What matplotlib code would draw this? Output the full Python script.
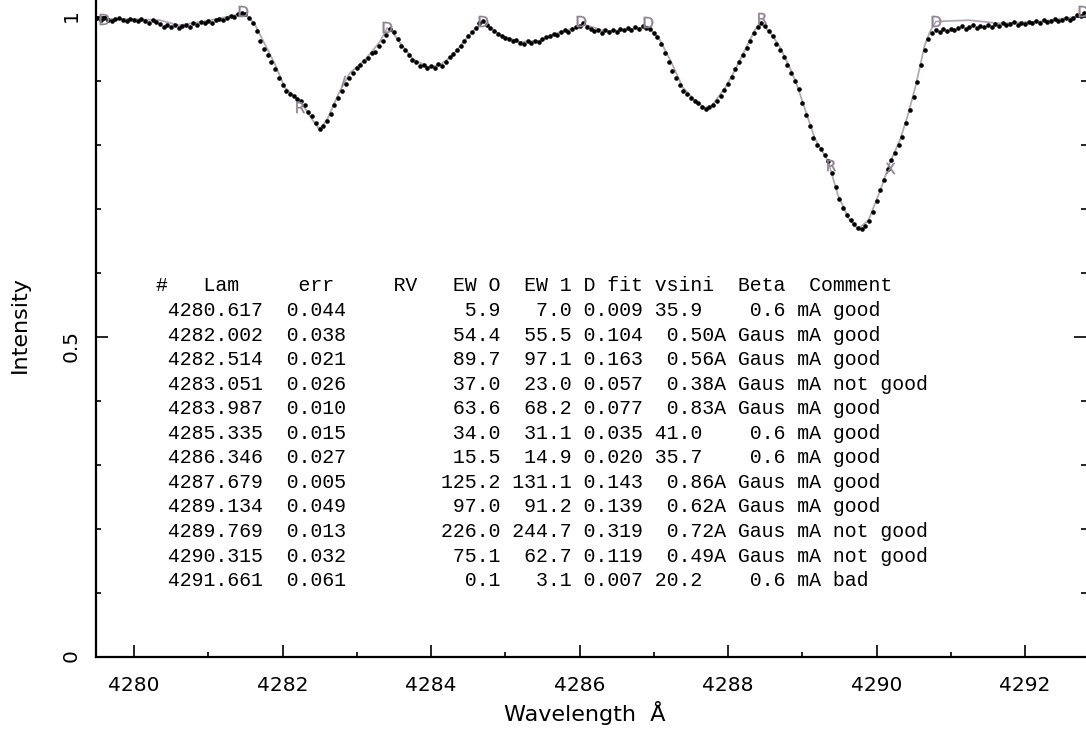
import matplotlib
matplotlib.use("Agg")
import matplotlib.pyplot as plt
from matplotlib.ticker import MultipleLocator
import numpy as np

# observed spectrum, uniform sampling from WAVE0 in steps of DWAVE
WAVE0, DWAVE = 4279.50, 0.05
FLUX = [
    0.998, 0.995, 0.999, 0.996, 0.994, 0.997, 0.999, 0.996, 0.993, 0.997,
    0.996, 0.993, 0.997, 0.994, 0.991, 0.995, 0.992, 0.989, 0.985, 0.987,
    0.984, 0.987, 0.983, 0.986, 0.988, 0.985, 0.990, 0.988, 0.992, 0.990,
    0.993, 0.991, 0.995, 0.997, 0.996, 0.999, 1.002, 1.000, 1.004, 1.006,
    1.004, 0.999, 0.990, 0.978, 0.962, 0.950, 0.941, 0.929, 0.918, 0.905,
    0.893, 0.884, 0.880, 0.876, 0.872, 0.868, 0.863, 0.852, 0.845, 0.834,
    0.825, 0.829, 0.838, 0.849, 0.862, 0.873, 0.885, 0.896, 0.905, 0.913,
    0.921, 0.925, 0.932, 0.936, 0.943, 0.946, 0.955, 0.963, 0.972, 0.982,
    0.976, 0.966, 0.955, 0.948, 0.940, 0.933, 0.929, 0.924, 0.925, 0.920,
    0.923, 0.921, 0.926, 0.924, 0.930, 0.937, 0.942, 0.949, 0.955, 0.963,
    0.970, 0.977, 0.983, 0.990, 0.993, 0.988, 0.983, 0.978, 0.974, 0.970,
    0.967, 0.965, 0.962, 0.964, 0.960, 0.958, 0.962, 0.959, 0.963, 0.961,
    0.965, 0.968, 0.970, 0.974, 0.972, 0.977, 0.979, 0.976, 0.981, 0.984,
    0.986, 0.990, 0.985, 0.982, 0.978, 0.980, 0.975, 0.979, 0.976, 0.980,
    0.977, 0.981, 0.979, 0.983, 0.980, 0.984, 0.982, 0.986, 0.983, 0.981,
    0.975, 0.968, 0.958, 0.944, 0.930, 0.916, 0.904, 0.893, 0.884, 0.879,
    0.874, 0.869, 0.865, 0.860, 0.857, 0.859, 0.862, 0.868, 0.876, 0.886,
    0.896, 0.907, 0.918, 0.929, 0.940, 0.952, 0.962, 0.975, 0.985, 0.991,
    0.986, 0.978, 0.970, 0.958, 0.949, 0.938, 0.925, 0.913, 0.900, 0.888,
    0.866, 0.847, 0.829, 0.811, 0.800, 0.793, 0.785, 0.775, 0.757, 0.735,
    0.716, 0.701, 0.690, 0.683, 0.676, 0.671, 0.668, 0.674, 0.681, 0.695,
    0.712, 0.730, 0.746, 0.762, 0.776, 0.788, 0.800, 0.812, 0.835, 0.855,
    0.875, 0.899, 0.925, 0.949, 0.966, 0.975, 0.979, 0.977, 0.981, 0.978,
    0.982, 0.979, 0.983, 0.986, 0.981, 0.984, 0.987, 0.983, 0.986, 0.984,
    0.987, 0.985, 0.989, 0.986, 0.990, 0.987, 0.989, 0.992, 0.988, 0.990,
    0.989, 0.992, 0.990, 0.993, 0.991, 0.995, 0.992, 0.994, 0.997, 0.993,
    0.996, 0.998, 0.995, 0.999, 1.003, 1.001, 1.006,
]

# fitted model profile (nodes)
MODEL_WAVE = [
    4279.49, 4279.95, 4280.35, 4280.60, 4280.89, 4281.16, 4281.36, 4281.47, 4281.56,
    4281.63, 4281.76, 4281.90, 4282.03, 4282.17, 4282.24, 4282.37, 4282.48, 4282.53,
    4282.61, 4282.77, 4282.91, 4283.11, 4283.31, 4283.41, 4283.47, 4283.58, 4283.76,
    4283.96, 4284.12, 4284.28, 4284.46, 4284.59, 4284.70, 4284.79, 4284.93, 4285.20,
    4285.47, 4285.67, 4285.94, 4286.07, 4286.34, 4286.55, 4286.82, 4286.92, 4287.08,
    4287.25, 4287.39, 4287.56, 4287.69, 4287.78, 4287.96, 4288.09, 4288.23, 4288.36,
    4288.43, 4288.57, 4288.70, 4288.84, 4288.93, 4289.06, 4289.17, 4289.35, 4289.48,
    4289.62, 4289.75, 4289.89, 4290.05, 4290.18, 4290.32, 4290.42, 4290.52, 4290.59,
    4290.65, 4290.72, 4290.80, 4291.25, 4291.66, 4292.20, 4292.74, 4292.82,
]
MODEL_FLUX = [
    0.997, 0.997, 0.995, 0.987, 0.992, 0.998, 1.003, 1.006, 0.998,
    0.988, 0.958, 0.926, 0.890, 0.875, 0.869, 0.845, 0.827, 0.828,
    0.842, 0.884, 0.913, 0.933, 0.961, 0.983, 0.978, 0.960, 0.934,
    0.922, 0.925, 0.939, 0.964, 0.981, 0.992, 0.985, 0.972, 0.961,
    0.963, 0.974, 0.983, 0.988, 0.978, 0.979, 0.983, 0.985, 0.965,
    0.926, 0.890, 0.869, 0.858, 0.861, 0.889, 0.916, 0.949, 0.979,
    0.991, 0.976, 0.953, 0.919, 0.893, 0.848, 0.810, 0.774, 0.722,
    0.686, 0.669, 0.682, 0.729, 0.772, 0.809, 0.846, 0.889, 0.925,
    0.956, 0.977, 0.993, 0.995, 0.990, 0.993, 1.001, 1.006,
]

# continuum / line anchor marks
MARK_WAVE = [4279.60, 4281.47, 4282.24, 4282.82, 4283.41, 4284.70, 4286.02,
             4286.92, 4288.46, 4289.39, 4290.18, 4290.80, 4292.78]
MARK_FLUX = [0.997, 1.010, 0.860, 0.900, 0.985, 0.994, 0.994,
             0.992, 0.998, 0.769, 0.764, 0.994, 1.010]
MARK_SYM = ["D", "D", "R", "/", "D", "D", "D", "D", "R", "R", "X", "D", "D"]

# measured line table
LAM = [4280.617, 4282.002, 4282.514, 4283.051, 4283.987, 4285.335,
       4286.346, 4287.679, 4289.134, 4289.769, 4290.315, 4291.661]
ERR = [0.044, 0.038, 0.021, 0.026, 0.010, 0.015, 0.027, 0.005, 0.049, 0.013, 0.032, 0.061]
EW0 = [5.9, 54.4, 89.7, 37.0, 63.6, 34.0, 15.5, 125.2, 97.0, 226.0, 75.1, 0.1]
EW1 = [7.0, 55.5, 97.1, 23.0, 68.2, 31.1, 14.9, 131.1, 91.2, 244.7, 62.7, 3.1]
DFIT = [0.009, 0.104, 0.163, 0.057, 0.077, 0.035, 0.020, 0.143, 0.139, 0.319, 0.119, 0.007]
PROFILE = ["rot", "gaus", "gaus", "gaus", "gaus", "rot", "rot", "gaus", "gaus", "gaus", "gaus", "rot"]
WIDTH = [35.9, 0.50, 0.56, 0.38, 0.83, 41.0, 35.7, 0.86, 0.62, 0.72, 0.49, 20.2]
BETA = [0.6, None, None, None, None, 0.6, 0.6, None, None, None, None, 0.6]
COMMENT = ["good", "good", "good", "not good", "good", "good", "good", "good",
           "good", "not good", "not good", "bad"]

HEADER = "#   Lam     err     RV   EW O  EW 1 D fit vsini  Beta  Comment"

W, H = 1086, 744
fig = plt.figure(figsize=(W / 100, H / 100), dpi=100)
ax = fig.add_axes([96 / W, 87 / H, 990 / W, 657 / H])

wave = WAVE0 + DWAVE * np.arange(len(FLUX))
ax.plot(MODEL_WAVE, MODEL_FLUX, color="#b3aab3", lw=1.3, zorder=2)
ax.plot(wave, FLUX, "o", color="black", ms=3.3, mew=0, zorder=3)
for w, f, s in zip(MARK_WAVE, MARK_FLUX, MARK_SYM):
    ax.plot(w, f, ls="none", marker=r"$\mathrm{%s}$" % s, ms=8,
            color="#8f8592", mew=0.3, zorder=4, clip_on=False)

ax.set_xlim(4280 - 38 / 74.25, 4280 + 952 / 74.25)
ax.set_ylim(0, 1 + 17 / 640)

ax.xaxis.set_major_locator(MultipleLocator(2))
ax.xaxis.set_minor_locator(MultipleLocator(1))
ax.set_yticks([0, 0.5, 1])
ax.set_yticklabels(["0", "0.5", "1"])
ax.yaxis.set_minor_locator(MultipleLocator(0.1))
ax.xaxis.set_major_formatter(matplotlib.ticker.FormatStrFormatter("%d"))

ax.spines["top"].set_visible(False)
ax.spines["right"].set_visible(False)
for sp in ("left", "bottom"):
    ax.spines[sp].set_linewidth(1.6)

ax.tick_params(which="both", direction="in", width=1.2, right=True, top=False,
               labelsize=14.5)
ax.tick_params(which="major", length=8.5)
ax.tick_params(which="minor", length=3.6)
ax.tick_params(axis="x", pad=14)
ax.tick_params(axis="y", labelrotation=90, pad=11)

fig.text(20 / W, 1 - 325 / H, "Intensity", rotation=90, ha="center", va="center",
         fontsize=16)
fig.text(585 / W, 1 - 713 / H, "Wavelength  Å", ha="center", va="center", fontsize=16)

# line table, one fixed-width row per line
MONO = dict(family="Liberation Mono", fontsize=14.3, va="baseline", ha="left")
x0 = 156 / W
fig.text(x0, 1 - 291 / H, HEADER, **MONO)
for i in range(len(LAM)):
    row = f"{LAM[i]:9.3f}  {ERR[i]:5.3f}{EW0[i]:13.1f}{EW1[i]:6.1f} {DFIT[i]:5.3f}"
    if PROFILE[i] == "rot":
        row += f" {WIDTH[i]:4.1f}{BETA[i]:7.1f} mA {COMMENT[i]}"
    else:
        row += f"  {WIDTH[i]:4.2f}A Gaus mA {COMMENT[i]}"
    fig.text(x0, 1 - (316 + 24.55 * i) / H, row, **MONO)

fig.savefig("out.png", dpi=100, facecolor="white")
